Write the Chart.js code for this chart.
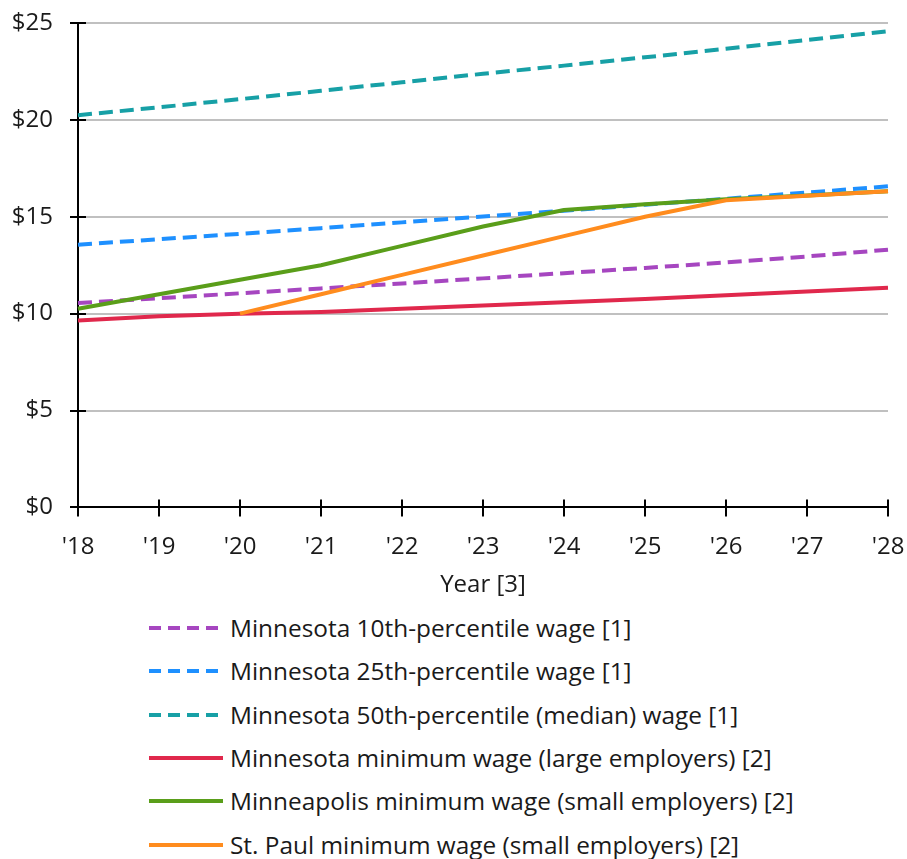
<!DOCTYPE html>
<html>
<head>
<meta charset="utf-8">
<script src="https://cdn.jsdelivr.net/npm/chart.js@4"></script>
<style>
  html, body { margin: 0; padding: 0; background: #fff; }
  body { width: 907px; height: 859px; position: relative; overflow: hidden; font-family: "Open Sans", Lato, sans-serif; }
  #wrap { position: absolute; left: 0; top: 0; width: 907px; height: 604px; }
  #legend { position: absolute; left: 148px; top: 611px; }
  .item { position: absolute; left: 0; height: 34px; white-space: nowrap; }
  .item svg { position: absolute; left: 0; top: 11px; }
  .item span { position: absolute; left: 82px; top: 0; font-size: 24.4px; line-height: 34px; color: #1a1a1a; }
</style>
</head>
<body>
<div id="wrap"><canvas id="c"></canvas></div>
<div id="legend"></div>
<script>
const years = ["'18","'19","'20","'21","'22","'23","'24","'25","'26","'27","'28"];
const yTicks = [0, 5, 10, 15, 20, 25];

const mn10 = [10.55, 10.80, 11.05, 11.30, 11.56, 11.82, 12.09, 12.36, 12.64, 12.95, 13.30];
const mn25 = [13.56, 13.84, 14.12, 14.41, 14.71, 15.01, 15.31, 15.62, 15.93, 16.25, 16.57];
const mn50 = [20.24, 20.65, 21.07, 21.50, 21.94, 22.38, 22.80, 23.23, 23.67, 24.12, 24.58];
const mnMin = [9.65, 9.86, 10.00, 10.08, 10.25, 10.42, 10.59, 10.76, 10.95, 11.14, 11.33];
const mplsMin = [10.25, 11.00, 11.75, 12.50, 13.50, 14.50, 15.35, 15.65, 15.90, 16.10, 16.32];
const stpMin = [null, null, 10.00, 11.00, 12.00, 13.00, 14.00, 15.00, 15.85, 16.08, 16.32];

const seriesNames = [
  "Minnesota 10th-percentile wage [1]",
  "Minnesota 25th-percentile wage [1]",
  "Minnesota 50th-percentile (median) wage [1]",
  "Minnesota minimum wage (large employers) [2]",
  "Minneapolis minimum wage (small employers) [2]",
  "St. Paul minimum wage (small employers) [2]"
];
const colors = ["#a646c0", "#1e90ff", "#17a0a6", "#e0284c", "#5a9e1a", "#ff8c1e"];
const dashed = [true, true, true, false, false, false];
const drawOrder = [6, 5, 4, 3, 2, 1];
const seriesData = [mn10, mn25, mn50, mnMin, mplsMin, stpMin];

const datasets = seriesData.map((d, i) => ({
  label: seriesNames[i],
  data: d,
  borderColor: colors[i],
  backgroundColor: colors[i],
  borderWidth: 4,
  borderDash: dashed[i] ? [14, 7] : [],
  borderCapStyle: 'butt',
  pointRadius: 0,
  tension: 0,
  fill: false,
  order: drawOrder[i]
}));

const innerTicks = {
  id: 'innerTicks',
  afterDraw(chart) {
    const ctx = chart.ctx;
    const xs = chart.scales.x, ys = chart.scales.y;
    ctx.save();
    ctx.strokeStyle = '#000';
    ctx.lineWidth = 2;
    ctx.beginPath();
    yTicks.forEach(v => {
      const y = Math.round(ys.getPixelForValue(v));
      ctx.moveTo(xs.left, y);
      ctx.lineTo(xs.left + 8, y);
    });
    years.forEach((_, i) => {
      const x = Math.round(xs.getPixelForValue(i));
      ctx.moveTo(x, ys.bottom);
      ctx.lineTo(x, ys.bottom - 8);
    });
    ctx.stroke();
    ctx.restore();
  }
};

const font = { family: "'Open Sans', Lato, sans-serif", size: 24 };

new Chart(document.getElementById('c'), {
  type: 'line',
  data: { labels: years, datasets },
  options: {
    responsive: true,
    maintainAspectRatio: false,
    animation: false,
    layout: { padding: { top: 23, right: 19, left: 0, bottom: 4 } },
    plugins: { legend: { display: false }, tooltip: { enabled: false } },
    scales: {
      x: {
        afterFit(scale) { scale.paddingLeft = 0; scale.paddingRight = 0; },
        grid: { display: true, drawOnChartArea: false, color: '#000', tickColor: '#000', tickLength: 9, lineWidth: 2 },
        border: { color: '#000', width: 2 },
        ticks: { color: '#1a1a1a', font, padding: 16, maxRotation: 0, autoSkip: false },
        title: { display: true, text: 'Year [3]', color: '#1a1a1a', font, padding: { top: -6, bottom: 0 } }
      },
      y: {
        min: 0, max: 25,
        afterFit(scale) { scale.width = 78; scale.paddingTop = 0; scale.paddingBottom = 0; },
        grid: { color: '#c0c0c0', lineWidth: 2, tickColor: '#000', tickLength: 8 },
        border: { color: '#000', width: 2 },
        ticks: { stepSize: 5, color: '#1a1a1a', font, padding: 17, callback: v => '$' + v }
      }
    }
  },
  plugins: [innerTicks]
});

const legend = document.getElementById('legend');
seriesNames.forEach((name, i) => {
  const div = document.createElement('div');
  div.className = 'item';
  div.style.top = (i * 43.3) + 'px';
  const dash = dashed[i] ? 'stroke-dasharray="12 7"' : '';
  div.innerHTML = '<svg width="76" height="12"><line x1="1" y1="6" x2="75" y2="6" stroke="' + colors[i] + '" stroke-width="4" ' + dash + '/></svg><span>' + name + '</span>';
  legend.appendChild(div);
});
</script>
</body>
</html>
